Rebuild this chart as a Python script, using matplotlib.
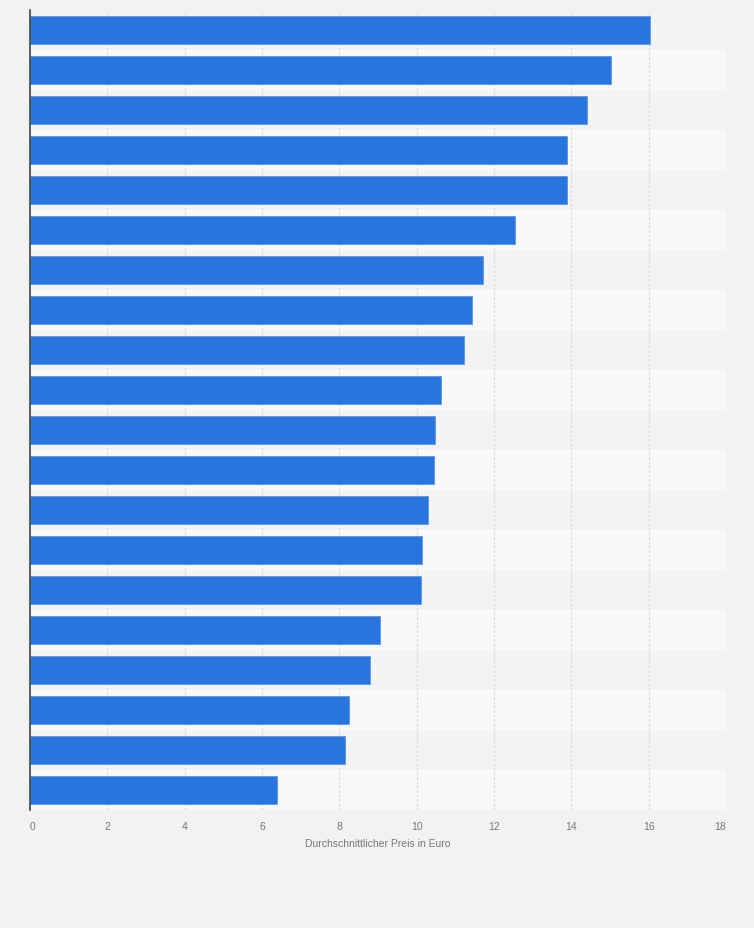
import matplotlib.pyplot as plt

plt.rcParams['font.family'] = ['Liberation Sans', 'DejaVu Sans']

# Durchschnittlicher Preis in Euro (Reihenfolge von oben nach unten)
rang = list(range(1, 21))
preis = [16.04, 15.02, 14.40, 13.88, 13.88, 12.54, 11.71, 11.42, 11.22, 10.62,
         10.48, 10.45, 10.30, 10.15, 10.12, 9.06, 8.80, 8.26, 8.15, 6.39]
x_ticks = [0, 2, 4, 6, 8, 10, 12, 14, 16, 18]

fig = plt.figure(figsize=(7.54, 9.29), dpi=100)
fig.patch.set_facecolor('#f2f2f2')
ax = fig.add_axes([30 / 754, 118.3 / 929, 696 / 754, 800 / 929])
ax.set_facecolor('#f2f2f2')

y = list(range(len(rang)))
# abwechselnde Zeilenbänder
for i in y:
    ax.axhspan(i - 0.5, i + 0.5, color='#f3f3f3' if i % 2 == 0 else '#f8f8f8', lw=0, zorder=0)

ax.barh(y, preis, height=0.7, color='#2876dd', edgecolor='#5a97e6', linewidth=0.6, zorder=3)

ax.set_xlim(0, 18)
ax.set_ylim(len(rang) - 0.5, -0.5)
ax.set_yticks([])
ax.set_xticks(x_ticks)
labels = ax.set_xticklabels([str(t) for t in x_ticks], fontsize=7.5, color='#777777')
labels[0].set_ha('left')
labels[-1].set_ha('right')
ax.tick_params(axis='x', length=0, pad=8)
ax.grid(axis='x', color='#d6d6d6', linestyle=(0, (2, 2)), linewidth=0.8, zorder=1)

for s in ['top', 'right', 'bottom']:
    ax.spines[s].set_visible(False)
ax.spines['left'].set_color('#444444')
ax.spines['left'].set_linewidth(1.2)
ax.spines['left'].set_zorder(4)

ax.set_xlabel('Durchschnittlicher Preis in Euro', fontsize=7.5, color='#777777', labelpad=5)

fig.savefig('out.png', dpi=100, facecolor=fig.get_facecolor())
